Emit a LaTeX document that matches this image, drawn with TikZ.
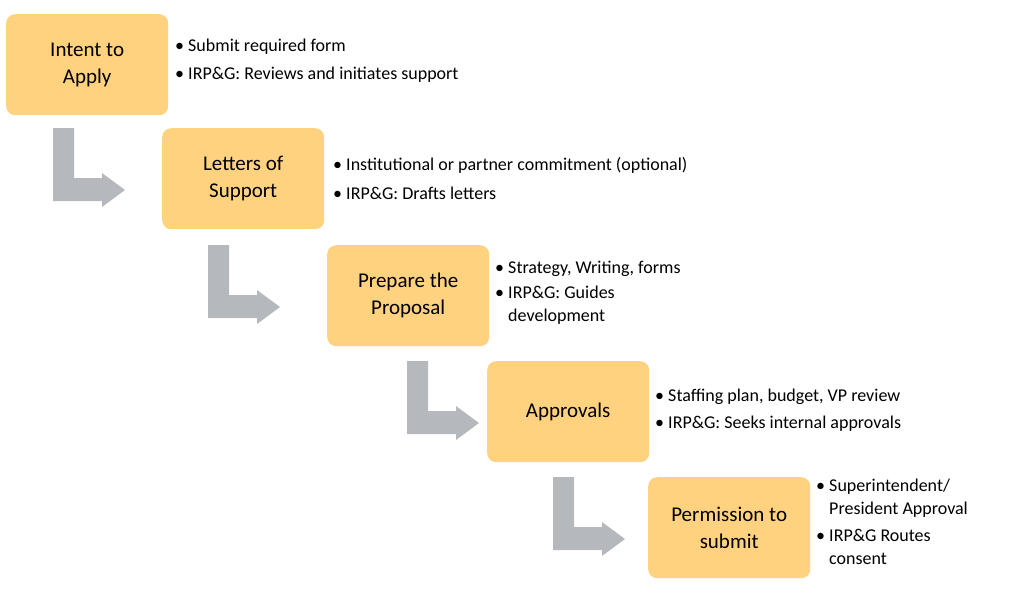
\documentclass[tikz,border=0pt]{standalone}
\usepackage{fontspec}
\setmainfont{Carlito}
\begin{document}
\begin{tikzpicture}[x=1pt,y=-1pt,
  box/.style={fill=boxc,draw=none,rounded corners=9pt,minimum width=162pt,minimum height=101pt,anchor=north west,align=center,font=\fontsize{21}{27}\selectfont,inner sep=0pt},
  bl/.style={anchor=west,align=left,inner sep=0pt,font=\fontsize{18}{23}\selectfont},
  arr/.style={fill=arrc,draw=none}]
\definecolor{boxc}{HTML}{FFD27F}
\definecolor{arrc}{HTML}{B5B9BD}
\useasboundingbox (0,0) rectangle (1024,614);
\node[box] (b1) at (6,14) {Intent to\\Apply};
\node[box] (b2) at (162,128) {Letters of\\Support};
\node[box] (b3) at (327,245) {Prepare the\\Proposal};
\node[box] (b4) at (487,361) {Approvals};
\node[box] (b5) at (648,477) {Permission to\\submit};
\foreach \n/\x/\y in {a1/53/128,a2/208/245,a3/407/361,a4/553/477}{
  \fill[arr] (\x,\y) -- ++(21,0) -- ++(0,50) -- ++(28,0) -- ++(0,-5) -- ++(23,17) -- ++(-23,17) -- ++(0,-6) -- ++(-49,0) -- cycle;
}
\node[bl] (t1a) at (175,47) {• Submit required form};
\node[bl] (t1b) at (175,75) {• IRP\&G: Reviews and initiates support};
\node[bl] (t2a) at (333,165) {• Institutional or partner commitment (optional)};
\node[bl] (t2b) at (333,193) {• IRP\&G: Drafts letters};
\node[bl] (t3a) at (495,269) {• Strategy, Writing, forms};
\node[bl,anchor=north west] (t3b) at (495,286) {• IRP\&G: Guides\\\hphantom{• }development};
\node[bl] (t4a) at (655,397) {• Staffing plan, budget, VP review};
\node[bl] (t4b) at (655,424) {• IRP\&G: Seeks internal approvals};
\node[bl,anchor=north west] (t5a) at (816,479) {• Superintendent/\\\hphantom{• }President Approval};
\node[bl,anchor=north west] (t5b) at (816,529) {• IRP\&G Routes\\\hphantom{• }consent};
\end{tikzpicture}
\end{document}
